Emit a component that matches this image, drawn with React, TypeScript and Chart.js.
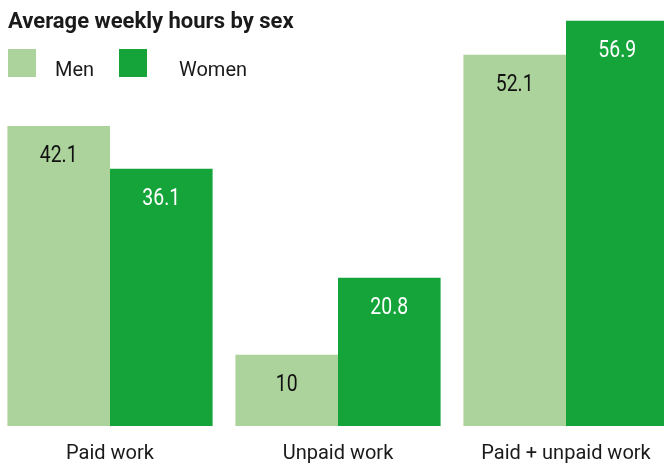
import React, { useEffect, useRef } from "react";
import { Chart, registerables } from "chart.js";

Chart.register(...registerables);

const categories = ["Paid work", "Unpaid work", "Paid + unpaid work"];
const seriesNames = ["Men", "Women"];
const menValues = [42.1, 10, 52.1];
const womenValues = [36.1, 20.8, 56.9];
const valueLabels = [["42.1", "10", "52.1"], ["36.1", "20.8", "56.9"]];
const titleText = "Average weekly hours by sex";

const MEN_COLOR = "#add39c";
const WOMEN_COLOR = "#14a439";
const OFFSET = 4;
const FONT = "Roboto, 'Open Sans', sans-serif";

const overlayPlugin = {
  id: "overlay",
  afterDatasetsDraw(chart: any) {
    const ctx = chart.ctx;
    chart.data.datasets.forEach((ds: any, di: number) => {
      const meta = chart.getDatasetMeta(di);
      meta.data.forEach((el: any, i: number) => {
        ctx.save();
        ctx.font = `24px ${FONT}`;
        ctx.textAlign = "center";
        ctx.textBaseline = "alphabetic";
        ctx.fillStyle = di === 0 ? "#111111" : "#ffffff";
        ctx.translate(el.x, el.y + 36);
        ctx.scale(0.81, 1);
        ctx.fillText(valueLabels[di][i], 0, 0);
        ctx.restore();
      });
    });
  },
  afterDraw(chart: any) {
    const ctx = chart.ctx;
    ctx.save();
    ctx.translate(OFFSET, 0);
    ctx.fillStyle = "#1a1a1a";
    ctx.font = `bold 22px ${FONT}`;
    ctx.textAlign = "left";
    ctx.textBaseline = "alphabetic";
    ctx.fillText(titleText, 8, 28);
    const boxX = [8, 119];
    const textX = [55, 179];
    chart.data.datasets.forEach((ds: any, di: number) => {
      ctx.fillStyle = ds.backgroundColor;
      ctx.fillRect(boxX[di], 49, 28, 28);
      ctx.fillStyle = "#1a1a1a";
      ctx.font = `20px ${FONT}`;
      ctx.fillText(ds.label, textX[di], 76);
    });
    ctx.restore();
  },
};

export default function App() {
  const ref = useRef<HTMLCanvasElement | null>(null);
  useEffect(() => {
    document.body.style.margin = "0";
    document.body.style.overflow = "hidden";
    const canvas = ref.current!;
    const chart = new Chart(canvas, {
      type: "bar",
      data: {
        labels: categories,
        datasets: [
          { label: seriesNames[0], data: menValues, backgroundColor: MEN_COLOR, borderWidth: 0 },
          { label: seriesNames[1], data: womenValues, backgroundColor: WOMEN_COLOR, borderWidth: 0 },
        ],
      },
      options: {
        responsive: false,
        animation: false,
        devicePixelRatio: 1,
        layout: { padding: 0 },
        plugins: { legend: { display: false }, title: { display: false }, tooltip: { enabled: false } },
        datasets: { bar: { categoryPercentage: 0.9, barPercentage: 1.0 } },
        scales: {
          x: {
            grid: { display: false, drawTicks: false },
            border: { display: false },
            ticks: { color: "#1a1a1a", font: { family: FONT, size: 20 }, padding: 16, maxRotation: 0 },
          },
          y: { display: false, min: 0, max: 59.8 },
        },
      },
      plugins: [overlayPlugin],
    });
    return () => chart.destroy();
  }, []);
  return (
    <div style={{ position: "relative", width: 664, height: 467, overflow: "hidden", background: "#fff" }}>
      <canvas ref={ref} width={684} height={482} style={{ position: "absolute", left: -OFFSET, top: 0, width: 684, height: 482 }} />
    </div>
  );
}
